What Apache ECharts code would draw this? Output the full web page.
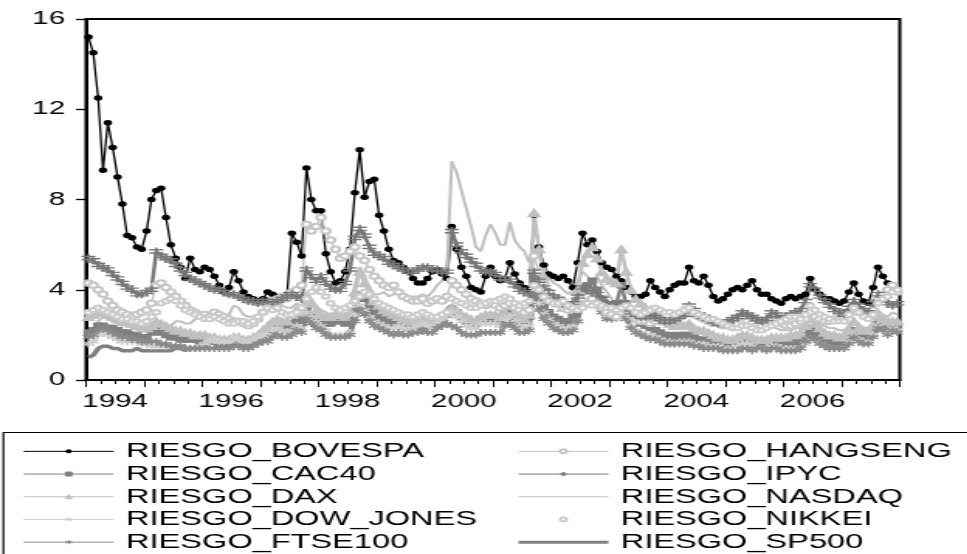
<!DOCTYPE html>
<html>
<head>
<meta charset="utf-8">
<title>Riesgo semanal por índice bursátil</title>
<script src="https://cdn.jsdelivr.net/npm/echarts@6/dist/echarts.min.js"></script>
<style>
  html, body { margin: 0; padding: 0; background: #fff; overflow: hidden; }
  /* the source graph is stretched sideways, so draw it narrow and widen it */
  #chart { width: 624px; height: 554px; transform: scaleX(1.55); transform-origin: 0 0; }
</style>
</head>
<body>
<div id="chart"></div>
<script>
// one value per month, 1994-2007, placed mid-month
const fechas = [];
for (let y = 1994; y <= 2007; y++) {
  for (let m = 0; m < 12; m++) fechas.push(+(y + (m + 0.5) / 12).toFixed(4));
}
const yearTicks = [1994, 1995, 1996, 1997, 1998, 1999, 2000, 2001, 2002, 2003, 2004, 2005, 2006, 2007, 2008];
const yearLabels = [1994, 1996, 1998, 2000, 2002, 2004, 2006];

const riesgoBovespa = [
  15.2, 14.5, 12.5, 9.3, 11.4, 10.3, 9.0, 7.8, 6.4, 6.3, 5.9, 5.8,
  6.6, 8.0, 8.4, 8.5, 7.2, 6.0, 5.4, 5.0, 4.5, 5.4, 4.9, 4.8,
  5.0, 4.9, 4.6, 4.2, 3.9, 4.1, 4.8, 4.4, 3.9, 3.7, 3.6, 3.5,
  3.6, 3.9, 3.8, 3.7, 3.6, 3.8, 6.5, 6.1, 5.5, 9.4, 8.0, 7.5,
  7.5, 5.6, 4.8, 4.3, 4.4, 4.8, 5.8, 8.3, 10.2, 8.1, 8.8, 8.9,
  7.3, 6.6, 5.8, 5.3, 5.2, 5.0, 4.8, 4.5, 4.3, 4.3, 4.5, 4.8,
  4.9, 4.7, 4.5, 6.8, 5.8, 5.0, 4.6, 4.1, 4.0, 3.9, 4.6, 5.0,
  4.6, 4.4, 4.5, 5.2, 4.7, 4.3, 4.1, 4.0, 7.3, 5.9, 5.1, 4.7,
  4.6, 4.5, 4.6, 4.4, 4.1, 5.2, 6.5, 6.0, 6.2, 5.7, 5.2, 5.0,
  4.9, 4.6, 4.4, 4.1, 3.9, 3.7, 3.7, 3.8, 4.4, 4.1, 3.9, 3.7,
  4.0, 4.2, 4.3, 4.3, 5.0, 4.4, 4.3, 4.6, 4.2, 3.7, 3.5, 3.6,
  3.8, 4.0, 4.1, 4.0, 4.2, 4.4, 4.0, 3.8, 3.8, 3.6, 3.5, 3.4,
  3.6, 3.7, 3.6, 3.7, 3.8, 4.5, 4.0, 3.8, 3.6, 3.6, 3.5, 3.4,
  3.5, 3.9, 4.3, 3.8, 3.5, 3.4, 4.1, 5.0, 4.6, 4.3, 4.0, 4.0
];
const riesgoCac40 = [
  2.1, 2.2, 2.4, 2.4, 2.3, 2.3, 2.2, 2.1, 2.1, 2.0, 2.0, 1.9,
  1.9, 2.1, 2.2, 2.1, 2.0, 1.9, 1.9, 1.8, 1.8, 1.8, 1.8, 1.7,
  1.7, 1.7, 1.7, 1.6, 1.6, 1.6, 1.7, 1.7, 1.6, 1.6, 1.7, 1.8,
  1.9, 2.0, 2.2, 2.3, 2.3, 2.3, 2.5, 2.7, 2.6, 3.1, 2.9, 2.7,
  2.6, 2.5, 2.5, 2.6, 2.6, 2.5, 2.6, 3.3, 3.8, 3.6, 3.2, 3.0,
  2.8, 2.7, 2.6, 2.6, 2.5, 2.4, 2.3, 2.4, 2.4, 2.5, 2.4, 2.4,
  2.6, 2.7, 2.9, 3.1, 3.0, 2.8, 2.6, 2.5, 2.5, 2.7, 2.7, 2.7,
  2.7, 2.6, 2.9, 3.1, 2.8, 2.6, 2.6, 2.8, 4.6, 3.8, 3.3, 3.0,
  2.8, 2.7, 2.6, 2.6, 2.8, 3.2, 4.0, 4.2, 4.4, 4.0, 3.6, 3.3,
  3.2, 3.4, 4.2, 3.4, 3.0, 2.7, 2.5, 2.4, 2.3, 2.2, 2.1, 2.0,
  2.0, 1.9, 2.0, 2.0, 2.0, 1.9, 1.8, 1.8, 1.7, 1.7, 1.6, 1.6,
  1.6, 1.6, 1.6, 1.7, 1.7, 1.6, 1.6, 1.6, 1.6, 1.7, 1.7, 1.6,
  1.6, 1.6, 1.7, 1.7, 2.0, 2.3, 2.1, 1.9, 1.8, 1.7, 1.7, 1.7,
  1.7, 1.9, 2.2, 2.0, 1.9, 1.9, 2.2, 2.7, 2.5, 2.4, 2.5, 2.4
];
const riesgoDax = [
  2.8, 2.9, 3.0, 3.0, 2.9, 2.8, 2.7, 2.6, 2.6, 2.5, 2.4, 2.3,
  2.3, 2.4, 2.6, 2.5, 2.4, 2.3, 2.2, 2.2, 2.1, 2.1, 2.0, 2.0,
  2.0, 1.9, 1.9, 1.8, 1.8, 1.8, 1.9, 1.9, 1.8, 1.8, 1.9, 2.0,
  2.2, 2.4, 2.6, 2.7, 2.6, 2.6, 2.9, 3.1, 3.0, 3.6, 3.4, 3.1,
  2.9, 2.8, 2.8, 2.9, 2.9, 2.8, 3.0, 3.9, 4.8, 4.3, 3.8, 3.5,
  3.3, 3.1, 3.0, 2.9, 2.8, 2.7, 2.6, 2.6, 2.6, 2.7, 2.6, 2.5,
  2.7, 2.8, 3.0, 3.2, 3.1, 2.9, 2.8, 2.7, 2.6, 2.8, 2.9, 2.9,
  2.9, 2.8, 3.0, 3.3, 3.0, 2.8, 2.7, 2.9, 7.4, 5.8, 4.6, 3.9,
  3.6, 3.4, 3.2, 3.2, 3.4, 4.0, 5.2, 5.6, 5.9, 5.4, 4.8, 4.5,
  4.4, 4.3, 5.8, 4.8, 4.0, 3.6, 3.4, 3.2, 3.1, 3.0, 2.8, 2.6,
  2.5, 2.4, 2.5, 2.4, 2.5, 2.3, 2.2, 2.2, 2.1, 2.0, 1.9, 1.9,
  1.8, 1.8, 1.9, 2.0, 2.0, 1.9, 1.8, 1.8, 1.8, 1.9, 1.9, 1.9,
  1.9, 2.0, 2.0, 2.1, 2.4, 2.7, 2.5, 2.3, 2.1, 2.0, 2.0, 1.9,
  2.0, 2.2, 2.6, 2.3, 2.2, 2.2, 2.4, 2.8, 2.7, 2.6, 2.6, 2.6
];
const riesgoDowJones = [
  1.6, 1.7, 2.0, 2.1, 2.0, 1.9, 1.8, 1.7, 1.7, 1.7, 1.7, 1.6,
  1.6, 1.5, 1.5, 1.5, 1.5, 1.5, 1.5, 1.5, 1.4, 1.4, 1.4, 1.5,
  1.6, 1.7, 1.8, 1.7, 1.7, 1.7, 1.9, 1.8, 1.7, 1.7, 1.8, 1.9,
  2.0, 2.0, 2.2, 2.3, 2.2, 2.1, 2.2, 2.4, 2.3, 3.0, 2.8, 2.6,
  2.4, 2.2, 2.0, 2.0, 2.0, 2.0, 2.1, 2.9, 3.3, 3.1, 2.8, 2.6,
  2.5, 2.4, 2.3, 2.3, 2.4, 2.3, 2.2, 2.3, 2.4, 2.5, 2.4, 2.3,
  2.5, 2.7, 2.9, 3.0, 2.8, 2.6, 2.4, 2.3, 2.3, 2.5, 2.5, 2.5,
  2.5, 2.4, 2.7, 2.8, 2.6, 2.4, 2.3, 2.4, 4.0, 3.4, 3.0, 2.7,
  2.5, 2.4, 2.3, 2.3, 2.4, 2.6, 3.4, 3.5, 3.4, 3.3, 3.0, 2.8,
  2.7, 2.7, 3.0, 2.7, 2.4, 2.2, 2.1, 2.0, 2.0, 1.9, 1.8, 1.7,
  1.7, 1.6, 1.7, 1.7, 1.7, 1.6, 1.6, 1.6, 1.5, 1.5, 1.5, 1.4,
  1.4, 1.4, 1.5, 1.6, 1.6, 1.5, 1.4, 1.4, 1.4, 1.5, 1.5, 1.4,
  1.4, 1.4, 1.4, 1.4, 1.6, 1.8, 1.7, 1.6, 1.5, 1.4, 1.4, 1.4,
  1.4, 1.7, 2.0, 1.8, 1.7, 1.7, 2.0, 2.4, 2.2, 2.1, 2.3, 2.2
];
const riesgoFtse100 = [
  1.9, 2.0, 2.2, 2.3, 2.2, 2.1, 2.0, 1.9, 1.9, 1.8, 1.8, 1.7,
  1.7, 1.7, 1.7, 1.6, 1.6, 1.5, 1.5, 1.5, 1.4, 1.4, 1.4, 1.4,
  1.4, 1.4, 1.4, 1.4, 1.4, 1.4, 1.5, 1.5, 1.4, 1.4, 1.5, 1.6,
  1.7, 1.7, 1.9, 2.0, 1.9, 1.9, 2.0, 2.2, 2.1, 2.7, 2.5, 2.3,
  2.2, 2.0, 1.9, 1.9, 1.9, 1.9, 2.0, 2.6, 3.1, 2.9, 2.6, 2.4,
  2.3, 2.2, 2.1, 2.0, 2.1, 2.0, 2.0, 2.1, 2.1, 2.2, 2.1, 2.1,
  2.3, 2.4, 2.5, 2.4, 2.3, 2.1, 2.0, 2.0, 2.0, 2.1, 2.1, 2.1,
  2.1, 2.1, 2.4, 2.5, 2.3, 2.1, 2.1, 2.2, 3.8, 3.1, 2.7, 2.5,
  2.3, 2.2, 2.1, 2.1, 2.2, 2.6, 3.3, 3.4, 3.5, 3.3, 3.0, 2.7,
  2.7, 2.8, 3.2, 2.7, 2.3, 2.1, 2.0, 1.9, 1.8, 1.8, 1.7, 1.6,
  1.6, 1.6, 1.6, 1.6, 1.6, 1.5, 1.5, 1.4, 1.4, 1.4, 1.4, 1.3,
  1.3, 1.3, 1.3, 1.4, 1.4, 1.3, 1.4, 1.4, 1.3, 1.4, 1.4, 1.3,
  1.3, 1.3, 1.3, 1.4, 1.7, 1.9, 1.8, 1.6, 1.5, 1.4, 1.4, 1.4,
  1.4, 1.6, 1.9, 1.7, 1.6, 1.6, 1.9, 2.3, 2.2, 2.0, 2.2, 2.1
];
const riesgoHangseng = [
  4.3, 4.2, 4.0, 3.8, 3.5, 3.3, 3.1, 3.0, 2.9, 2.8, 2.9, 3.0,
  3.1, 3.4, 4.2, 4.3, 4.1, 3.9, 3.7, 3.5, 3.3, 3.1, 3.0, 2.9,
  2.9, 2.8, 3.0, 2.9, 2.8, 2.7, 2.6, 2.6, 2.5, 2.4, 2.5, 2.7,
  3.0, 3.3, 3.5, 3.6, 3.7, 3.6, 3.9, 4.0, 4.2, 6.9, 6.6, 6.8,
  7.2, 6.6, 6.2, 5.8, 5.4, 5.5, 5.7, 5.9, 5.5, 5.3, 4.9, 4.6,
  4.4, 4.2, 4.1, 4.2, 3.9, 3.7, 3.6, 3.5, 3.5, 3.6, 3.4, 3.5,
  3.6, 3.5, 3.7, 4.4, 4.2, 4.0, 3.8, 3.6, 3.5, 3.4, 3.3, 3.4,
  3.3, 3.2, 3.3, 3.4, 3.2, 3.1, 3.0, 3.1, 5.5, 4.8, 4.3, 3.9,
  3.6, 3.4, 3.2, 3.1, 3.2, 3.3, 3.6, 3.7, 3.6, 3.4, 3.2, 3.0,
  2.9, 2.8, 3.0, 3.1, 2.9, 2.7, 2.6, 2.6, 2.5, 2.6, 2.7, 2.6,
  2.6, 2.7, 2.8, 2.9, 3.1, 2.9, 2.8, 2.7, 2.6, 2.5, 2.5, 2.4,
  2.4, 2.4, 2.5, 2.6, 2.6, 2.5, 2.4, 2.4, 2.5, 2.6, 2.6, 2.5,
  2.4, 2.4, 2.5, 2.6, 2.7, 3.0, 2.8, 2.7, 2.6, 2.6, 2.7, 2.7,
  2.8, 2.9, 3.2, 3.0, 2.9, 2.9, 3.1, 3.6, 3.8, 4.0, 4.2, 3.9
];
const riesgoIpyc = [
  5.4, 5.3, 5.1, 5.0, 4.9, 4.7, 4.5, 4.3, 4.1, 4.0, 3.8, 3.8,
  3.9, 4.0, 5.7, 5.5, 5.4, 5.3, 5.1, 4.9, 4.7, 4.5, 4.4, 4.3,
  4.2, 4.1, 4.0, 4.0, 3.9, 3.8, 3.8, 3.7, 3.6, 3.5, 3.5, 3.4,
  3.5, 3.5, 3.4, 3.5, 3.6, 3.7, 3.8, 3.7, 3.6, 4.9, 4.6, 4.4,
  4.6, 4.3, 4.1, 4.0, 4.0, 4.3, 4.9, 6.3, 6.7, 6.4, 5.9, 5.6,
  5.5, 5.4, 5.2, 5.1, 5.0, 4.9, 4.8, 4.8, 4.9, 5.0, 5.0, 4.9,
  4.9, 4.8, 4.8, 6.6, 6.0, 5.7, 5.5, 5.3, 5.1, 4.9, 4.8, 4.8,
  4.7, 4.5, 4.5, 4.4, 4.2, 4.0, 3.9, 3.8, 4.8, 4.4, 4.1, 3.9,
  3.7, 3.6, 3.4, 3.3, 3.4, 3.7, 4.1, 4.0, 3.9, 3.8, 3.6, 3.4,
  3.3, 3.3, 3.4, 3.2, 3.0, 2.9, 2.8, 2.8, 2.9, 2.8, 2.7, 2.6,
  2.6, 2.7, 2.8, 2.9, 3.3, 3.1, 2.9, 2.8, 2.7, 2.6, 2.5, 2.5,
  2.6, 2.7, 2.8, 3.0, 2.9, 2.8, 2.7, 2.6, 2.7, 3.0, 2.9, 2.7,
  2.8, 2.9, 3.0, 3.1, 3.5, 4.2, 4.0, 3.7, 3.5, 3.3, 3.1, 3.0,
  2.9, 3.2, 3.5, 3.3, 3.1, 3.0, 3.4, 3.8, 3.6, 3.4, 3.3, 3.4
];
const riesgoNasdaq = [
  2.2, 2.3, 2.6, 2.8, 2.7, 2.6, 2.5, 2.4, 2.4, 2.3, 2.4, 2.3,
  2.2, 2.2, 2.1, 2.1, 2.2, 2.4, 2.6, 2.6, 2.5, 2.5, 2.7, 2.8,
  2.8, 2.8, 2.9, 2.8, 2.8, 2.9, 3.3, 3.2, 2.9, 2.8, 2.8, 2.9,
  3.1, 3.1, 3.4, 3.5, 3.3, 3.2, 3.2, 3.4, 3.2, 3.9, 3.6, 3.3,
  3.1, 3.0, 2.9, 3.0, 3.1, 3.1, 3.3, 4.2, 5.0, 4.6, 4.1, 3.8,
  3.8, 3.9, 3.7, 3.8, 3.9, 3.7, 3.6, 3.7, 3.7, 3.8, 3.7, 3.9,
  4.2, 4.4, 4.8, 9.7, 9.2, 8.4, 7.6, 6.8, 5.9, 5.7, 6.4, 6.9,
  6.5, 6.0, 6.0, 7.0, 6.2, 5.9, 5.7, 5.2, 6.0, 5.5, 5.0, 4.6,
  4.3, 4.2, 4.0, 3.8, 4.0, 4.4, 4.8, 4.6, 4.4, 4.6, 4.2, 3.9,
  3.6, 3.4, 3.5, 3.3, 3.0, 2.9, 2.8, 2.7, 2.8, 2.9, 2.7, 2.6,
  2.6, 2.7, 2.8, 2.8, 2.9, 2.8, 2.7, 2.7, 2.6, 2.5, 2.4, 2.4,
  2.3, 2.2, 2.3, 2.4, 2.4, 2.3, 2.2, 2.2, 2.3, 2.4, 2.3, 2.2,
  2.2, 2.2, 2.3, 2.3, 2.6, 2.8, 2.7, 2.5, 2.4, 2.3, 2.3, 2.2,
  2.2, 2.4, 2.7, 2.5, 2.3, 2.3, 2.6, 3.1, 2.9, 2.8, 3.0, 2.9
];
const riesgoNikkei = [
  3.0, 3.1, 3.2, 3.1, 3.0, 2.9, 2.8, 2.7, 2.7, 2.6, 2.6, 2.5,
  2.6, 2.8, 3.0, 3.4, 3.5, 3.6, 3.5, 3.3, 3.1, 3.0, 2.9, 2.8,
  2.7, 2.7, 2.8, 2.7, 2.6, 2.5, 2.5, 2.6, 2.6, 2.5, 2.6, 2.8,
  3.0, 3.2, 3.1, 3.2, 3.0, 2.9, 2.9, 3.0, 3.2, 3.6, 3.9, 4.1,
  3.9, 3.7, 3.4, 3.2, 3.1, 3.2, 3.3, 3.5, 3.7, 3.9, 3.8, 3.6,
  3.4, 3.3, 3.2, 3.1, 3.0, 2.9, 2.9, 2.8, 2.9, 3.0, 2.9, 2.8,
  2.8, 2.9, 3.0, 3.6, 3.5, 3.4, 3.3, 3.2, 3.2, 3.3, 3.4, 3.5,
  3.5, 3.6, 3.7, 3.6, 3.4, 3.3, 3.4, 3.5, 4.2, 4.0, 3.7, 3.5,
  3.4, 3.4, 3.5, 3.3, 3.2, 3.1, 3.2, 3.4, 3.3, 3.4, 3.3, 3.2,
  3.2, 3.1, 3.2, 3.3, 3.2, 3.0, 2.9, 3.0, 3.1, 3.2, 3.1, 3.0,
  3.0, 2.9, 3.0, 3.1, 3.2, 3.0, 2.9, 2.8, 2.7, 2.7, 2.6, 2.5,
  2.4, 2.3, 2.3, 2.4, 2.4, 2.3, 2.2, 2.2, 2.3, 2.4, 2.5, 2.6,
  2.7, 2.8, 2.8, 2.7, 2.9, 3.3, 3.1, 2.9, 2.8, 2.7, 2.6, 2.6,
  2.6, 2.9, 3.2, 3.0, 2.8, 2.7, 2.9, 3.4, 3.6, 3.7, 3.9, 4.0
];
const riesgoSp500 = [
  1.0, 1.1, 1.4, 1.5, 1.5, 1.4, 1.4, 1.3, 1.3, 1.3, 1.4, 1.3,
  1.3, 1.3, 1.3, 1.3, 1.3, 1.3, 1.4, 1.4, 1.3, 1.4, 1.4, 1.4,
  1.5, 1.7, 1.8, 1.7, 1.7, 1.6, 1.8, 1.8, 1.7, 1.6, 1.7, 1.8,
  1.9, 1.9, 2.1, 2.2, 2.2, 2.1, 2.2, 2.4, 2.3, 2.9, 2.7, 2.5,
  2.3, 2.2, 2.0, 1.9, 2.0, 2.0, 2.1, 2.8, 3.3, 3.1, 2.8, 2.6,
  2.5, 2.5, 2.4, 2.5, 2.5, 2.4, 2.3, 2.5, 2.5, 2.7, 2.5, 2.4,
  2.6, 2.8, 3.1, 3.3, 3.1, 2.8, 2.6, 2.4, 2.4, 2.7, 2.7, 2.8,
  2.9, 2.8, 3.2, 3.4, 3.0, 2.7, 2.6, 2.7, 3.9, 3.4, 3.0, 2.8,
  2.6, 2.5, 2.4, 2.4, 2.6, 2.8, 3.6, 3.7, 3.5, 3.5, 3.2, 2.9,
  2.8, 2.8, 3.1, 2.7, 2.4, 2.2, 2.1, 2.0, 2.0, 1.9, 1.8, 1.8,
  1.8, 1.7, 1.8, 1.8, 1.8, 1.7, 1.7, 1.7, 1.6, 1.6, 1.6, 1.5,
  1.5, 1.5, 1.6, 1.7, 1.7, 1.6, 1.5, 1.5, 1.5, 1.6, 1.6, 1.5,
  1.5, 1.5, 1.5, 1.5, 1.7, 1.9, 1.8, 1.7, 1.6, 1.5, 1.5, 1.5,
  1.5, 1.8, 2.1, 1.9, 1.8, 1.8, 2.1, 2.6, 2.4, 2.2, 2.4, 2.3
];

const fuente = "'Liberation Sans', Arial, sans-serif";
const asterisco = 'path://M0,-5L0,5M-4.3,-2.5L4.3,2.5M-4.3,2.5L4.3,-2.5';
const cruz = 'path://M-5,-2L5,-2M-5,2L5,2M0,-5L0,5';

// build one line series from a value array
function serie(name, valores, color, symbol, size, lineWidth, extra) {
  return Object.assign({
    name: name,
    type: 'line',
    data: fechas.map((f, i) => [f, valores[i]]),
    symbol: symbol,
    symbolSize: size,
    color: color,
    lineStyle: { color: color, width: lineWidth },
    itemStyle: { color: color, borderColor: color, borderWidth: 1.5 },
    emphasis: { disabled: true },
    animation: false
  }, extra || {});
}

// weekly markers in the original make thick bands, so marks are large here
const series = [
  serie('RIESGO_BOVESPA', riesgoBovespa, '#000000', 'circle', 5.5, 1.3, { itemStyle: { color: '#000', borderWidth: 0 } }),
  serie('RIESGO_CAC40', riesgoCac40, '#808080', 'rect', 5, 2.5),
  serie('RIESGO_DAX', riesgoDax, '#c0c0c0', 'triangle', 7, 2.5),
  serie('RIESGO_DOW_JONES', riesgoDowJones, '#cfcfcf', asterisco, 7, 2.5),
  serie('RIESGO_FTSE100', riesgoFtse100, '#8a8a8a', asterisco, 7, 2.5),
  serie('RIESGO_HANGSENG', riesgoHangseng, '#c6c6c6', 'emptyCircle', 5.5, 1.5),
  serie('RIESGO_IPYC', riesgoIpyc, '#787878', cruz, [9, 8], 2.5),
  serie('RIESGO_NASDAQ', riesgoNasdaq, '#c0c0c0', 'none', 0, 2),
  serie('RIESGO_NIKKEI', riesgoNikkei, '#cccccc', 'emptyCircle', 4.5, 0),
  serie('RIESGO_SP500', riesgoSp500, '#808080', 'none', 0, 3.5)
];

// legend items, two columns; legend lines stay thin as in the original
const fino = { width: 1 };
const leyendaBase = {
  orient: 'vertical',
  top: 440,
  padding: 0,
  itemGap: 0,
  itemWidth: 58,
  itemHeight: 5,
  selectedMode: false,
  lineStyle: { width: 'inherit' },
  itemStyle: { borderWidth: 1 },
  textStyle: { fontFamily: fuente, fontSize: 21, color: '#000', lineHeight: 22.7, padding: [0, 0, 0, 3] }
};
const legend = [
  Object.assign({}, leyendaBase, {
    left: 14.8,
    data: [
      { name: 'RIESGO_BOVESPA', lineStyle: fino },
      { name: 'RIESGO_CAC40', lineStyle: fino },
      { name: 'RIESGO_DAX', lineStyle: fino },
      { name: 'RIESGO_DOW_JONES', lineStyle: fino },
      { name: 'RIESGO_FTSE100', lineStyle: fino }
    ]
  }),
  Object.assign({}, leyendaBase, {
    left: 333,
    data: [
      { name: 'RIESGO_HANGSENG', lineStyle: fino },
      { name: 'RIESGO_IPYC', lineStyle: fino },
      { name: 'RIESGO_NASDAQ', lineStyle: fino, itemStyle: { opacity: 0 } },
      { name: 'RIESGO_NIKKEI', lineStyle: { width: 0 } },
      { name: 'RIESGO_SP500', lineStyle: { width: 3 }, itemStyle: { opacity: 0 } }
    ]
  })
];

const option = {
  backgroundColor: '#fff',
  animation: false,
  grid: {
    left: 55.5, top: 19, width: 525, height: 361,
    show: true, borderColor: '#000', borderWidth: 2,
    outerBoundsMode: 'none'
  },
  xAxis: {
    type: 'value',
    min: 1994, max: 2008, interval: 1,
    axisLine: { lineStyle: { color: '#000', width: 2 } },
    axisTick: { length: 7, lineStyle: { color: '#000', width: 1 }, customValues: yearTicks },
    minorTick: { show: true, splitNumber: 4, length: 4, lineStyle: { color: '#000', width: 1 } },
    splitLine: { show: false },
    axisLabel: {
      customValues: yearLabels.map(y => y + 0.5),
      formatter: v => String(Math.floor(v)),
      fontFamily: fuente, fontSize: 19, color: '#000', margin: 12
    }
  },
  yAxis: {
    type: 'value',
    min: 0, max: 16, interval: 4,
    axisLine: { show: true, lineStyle: { color: '#000', width: 2 } },
    axisTick: { show: true, length: 6.5, lineStyle: { color: '#000', width: 1.3 } },
    splitLine: { show: false },
    axisLabel: { fontFamily: fuente, fontSize: 19, color: '#000', margin: 13.5 }
  },
  legend: legend,
  graphic: [{
    type: 'rect',
    shape: { x: 2.2, y: 432.5, width: 700, height: 200 },
    style: { fill: 'none', stroke: '#000', lineWidth: 1.2 },
    silent: true
  }],
  series: series
};

const chart = echarts.init(document.getElementById('chart'));
chart.setOption(option);
</script>
</body>
</html>
